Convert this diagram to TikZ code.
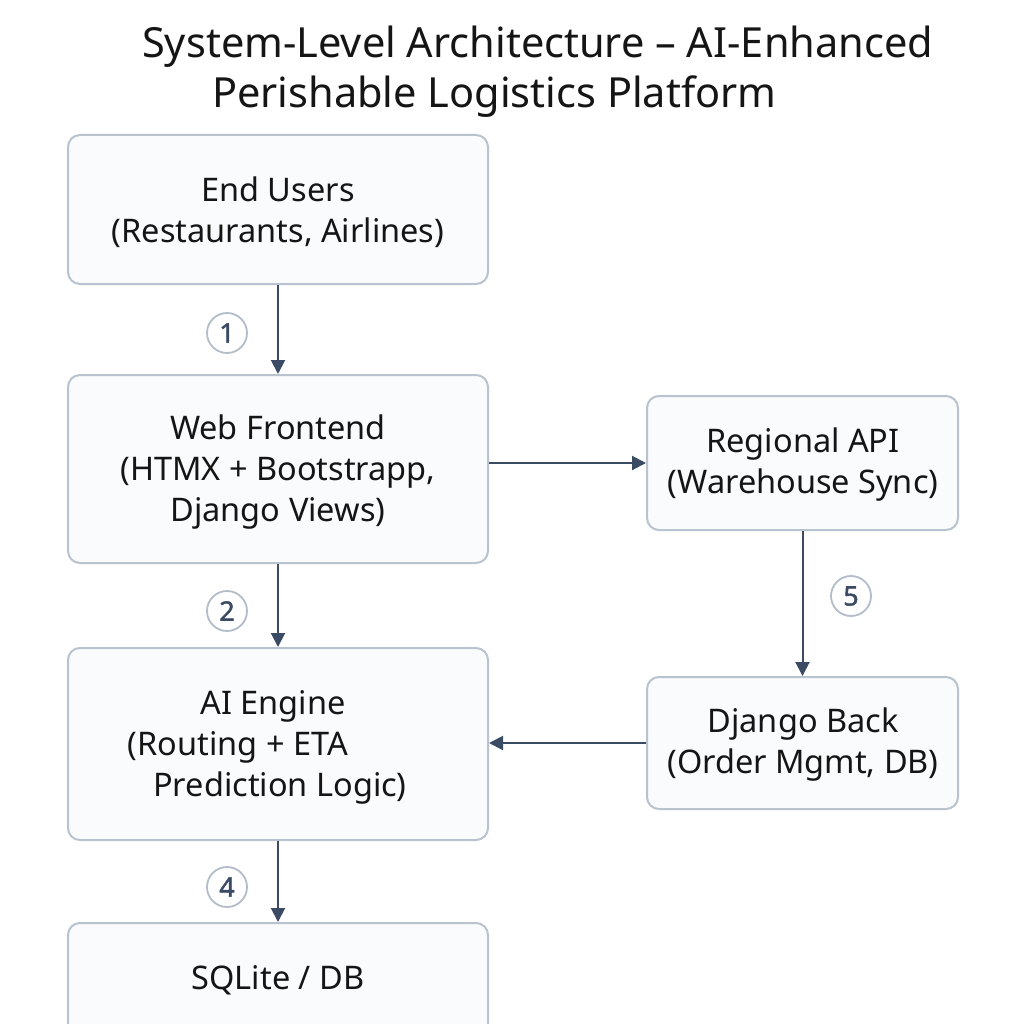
\documentclass[tikz,border=0pt]{standalone}
\usepackage{fontspec}
\setmainfont{Noto Sans}
\newfontfamily\badgefont[FakeBold=1.6]{Noto Sans}
\usetikzlibrary{arrows.meta}
\definecolor{boxline}{HTML}{B9C3CF}
\definecolor{boxfill}{HTML}{FAFBFC}
\definecolor{arrowc}{HTML}{3B4B64}
\definecolor{circline}{HTML}{B3BDC9}
\definecolor{txt}{HTML}{151515}
\tikzset{
  box/.style={draw=boxline, line width=2pt, fill=boxfill, rounded corners=12pt, inner sep=0pt},
  lbl/.style={font=\fontsize{32.5}{41}\selectfont, text=txt, align=center, inner sep=0pt},
  flow/.style={draw=arrowc, line width=2pt, -{Triangle[length=14pt,width=14pt]}},
  badge/.style={circle, draw=circline, line width=1.8pt, fill=white, minimum size=40pt, inner sep=0pt, font=\badgefont\fontsize{27}{27}\selectfont, text=arrowc},
}
\begin{document}
\begin{tikzpicture}[x=1pt,y=-1pt]
\useasboundingbox (0,0) rectangle (1024,1024);
\clip (0,0) rectangle (1024,1024);
\fill[white] (0,0) rectangle (1024,1024);
% title
\node[anchor=west, font=\fontsize{41.5}{41.5}\selectfont, text=txt, inner sep=0pt] (t1) at (142,47) {System-Level Architecture – AI-Enhanced};
\node[anchor=west, font=\fontsize{41.5}{41.5}\selectfont, text=txt, inner sep=0pt] (t2) at (212,97) {Perishable Logistics Platform};
% boxes
\node[box, minimum width=420pt, minimum height=149pt] (users) at (278,209.5) {};
\node[lbl] (userst) at (278,212) {End Users\\(Restaurants, Airlines)};
\node[box, minimum width=420pt, minimum height=188pt] (web) at (278,469) {};
\node[lbl] (webt) at (278,472) {Web Frontend\\(HTMX + Bootstrapp,\\Django Views)};
\node[box, minimum width=420pt, minimum height=192pt] (ai) at (278,744) {};
\node[lbl] (ait1) at (273,706) {AI Engine};
\node[lbl] (ait2) at (238,747) {(Routing + ETA};
\node[lbl] (ait3) at (280,788) {Prediction Logic)};
\node[box, minimum width=420pt, minimum height=200pt] (db) at (278,1023) {};
\node[lbl] (dbt) at (278,980) {SQLite / DB};
\node[box, minimum width=311pt, minimum height=134pt] (api) at (802.5,463) {};
\node[lbl] (apit) at (803,465) {Regional API\\(Warehouse Sync)};
\node[box, minimum width=311pt, minimum height=132pt] (back) at (802.5,743) {};
\node[lbl] (backt) at (803,745) {Django Back\\(Order Mgmt, DB)};
% connectors
\draw[flow] (users.south) -- (web.north);
\draw[flow] (web.south) -- (ai.north);
\draw[flow] (ai.south) -- (db.north);
\draw[flow] (web.east |- api.west) -- (api.west);
\draw[flow] (api.south) -- (back.north);
\draw[flow] (back.west) -- (ai.east |- back.west);
% badges
\node[badge] (b1) at (227,333) {1};
\node[badge] (b2) at (227,611) {2};
\node[badge] (b4) at (227,887) {4};
\node[badge] (b5) at (851,596) {5};
\end{tikzpicture}
\end{document}
